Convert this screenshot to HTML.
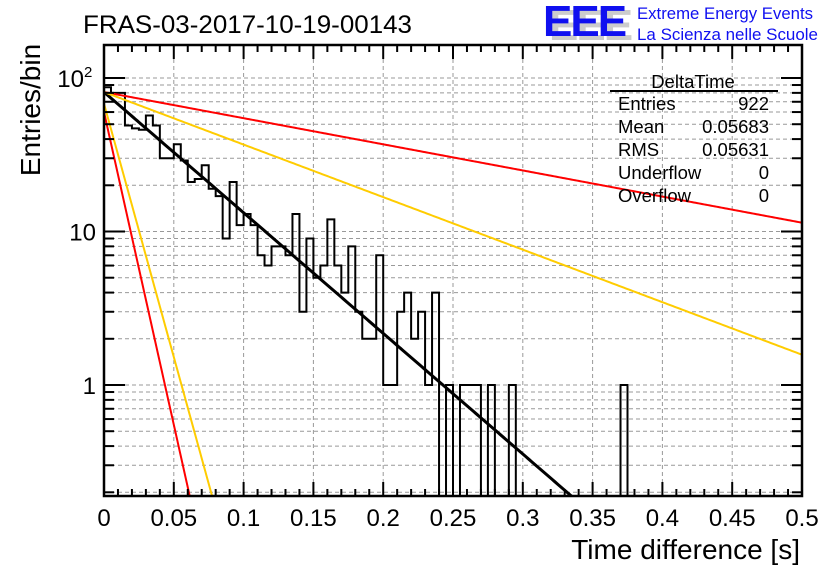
<!DOCTYPE html>
<html><head><meta charset="utf-8"><style>
html,body{margin:0;padding:0;background:#fff;width:836px;height:572px;overflow:hidden;}
svg{display:block;font-family:"Liberation Sans",sans-serif;}
</style></head><body>
<svg id="chart" width="836" height="572" viewBox="0 0 836 572">
<rect x="0" y="0" width="836" height="572" fill="#fff"/>
<text x="83" y="33" font-size="25" fill="#000" textLength="329" lengthAdjust="spacingAndGlyphs">FRAS-03-2017-10-19-00143</text>
<g>
<text x="549" y="40" font-size="44" font-weight="bold" fill="#ccc" letter-spacing="-2">EEE</text>
<text x="543" y="36" font-size="44" font-weight="bold" fill="#1010f0" letter-spacing="-2">EEE</text>
<text x="637" y="19" font-size="16.5" fill="#1010f0" textLength="176" lengthAdjust="spacingAndGlyphs">Extreme Energy Events</text>
<text x="637" y="40" font-size="16.5" fill="#1010f0" textLength="181" lengthAdjust="spacingAndGlyphs">La Scienza nelle Scuole</text>
</g>
<g id="grid"></g>
<g id="marks"></g>
<g id="axes"></g>
<text transform="translate(40,110) rotate(-90)" text-anchor="middle" font-size="28" fill="#000">Entries/bin</text>
<text x="800" y="559" text-anchor="end" font-size="28" fill="#000">Time difference [s]</text>
<g font-size="18.5" fill="#000">
<text x="693" y="88" text-anchor="middle">DeltaTime</text>
<line x1="610" y1="91" x2="778" y2="91" stroke="#000" stroke-width="2"/>
<text x="618" y="110">Entries</text><text x="769" y="110" text-anchor="end">922</text>
<text x="618" y="133">Mean</text><text x="769" y="133" text-anchor="end">0.05683</text>
<text x="618" y="156">RMS</text><text x="769" y="156" text-anchor="end">0.05631</text>
<text x="618" y="179">Underflow</text><text x="769" y="179" text-anchor="end">0</text>
<text x="618" y="202">Overflow</text><text x="769" y="202" text-anchor="end">0</text>
</g>
</svg>
<script>
const binWidth = 0.005;
const counts = [87,80,80,49,47,46,57,49,30,30,37,29,21,22,27,19,17,9,21,11,
13,11,7,6,8,8,7,13,3,9,5,6,12,6,4,8,3,2,2,7,1,1,3,4,2,3,1,4,0,1,
0,1,1,1,0,1,0,0,1,0,0,0,0,0,0,0,0,0,0,0,0,0,0,0,1,0,0,0,0,0,
0,0,0,0,0,0,0,0,0,0,0,0,0,0,0,0,0,0,0,0];
const xTicks = [0,0.05,0.1,0.15,0.2,0.25,0.3,0.35,0.4,0.45,0.5];
const xTickLabels = ["0","0.05","0.1","0.15","0.2","0.25","0.3","0.35","0.4","0.45","0.5"];
const fitAmps = [81, 81, 81, 60, 68];
const fitSlopes = [18.1, 3.92, 7.88, 93.8, 76];
const fitColors = ["#000","#f00","#fc0","#f00","#fc0"];

const L=104,R=802,T=45,B=496;
const y1=385, dec=153.5;
const X=v=>L+(v-0)/(0.5)*(R-L);
const Y=v=>y1-Math.log10(Math.max(v,1e-6))*dec;
const NS="http://www.w3.org/2000/svg";
function mk(t,a,p){const e=document.createElementNS(NS,t);for(const k in a)e.setAttribute(k,a[k]);p.appendChild(e);return e;}
const grid=document.getElementById('grid'),marks=document.getElementById('marks'),axes=document.getElementById('axes');
xTicks.forEach(v=>{if(v>0&&v<0.5){const g=mk('line',{x1:X(v),x2:X(v),y1:T,y2:B,stroke:'#999','stroke-dasharray':'4,3','stroke-width':1},grid);}});
const yVals=[];for(let d=-1;d<=2;d++)for(let m=1;m<10;m++){const v=m*Math.pow(10,d);if(Y(v)>T&&Y(v)<B)yVals.push([v,m==1]);}
yVals.forEach(([v,maj])=>{const g=mk('line',{x1:L,x2:R,y1:Y(v),y2:Y(v),stroke:'#999','stroke-dasharray':'4,3','stroke-width':1},grid);});
const defs=mk('defs',{},document.getElementById('chart'));
const cp=mk('clipPath',{id:'cp'},defs);mk('rect',{x:L,y:T,width:R-L,height:B-T},cp);
marks.setAttribute('clip-path','url(#cp)');
let d='M'+X(0)+','+B;
counts.forEach((c,i)=>{const yy=c>0?Y(c):B+5;d+=' L'+X(i*binWidth)+','+yy+' L'+X((i+1)*binWidth)+','+yy;});
d+=' L'+X(counts.length*binWidth)+','+B;
const h=mk('path',{d:d,fill:'none',stroke:'#000','stroke-width':2},marks);


fitAmps.forEach((a,k)=>{let p='';for(let i=0;i<=400;i++){const x=0.5*i/400;const v=a*Math.exp(-fitSlopes[k]*x);p+=(i?' L':'M')+X(x).toFixed(2)+','+Y(v).toFixed(2);}
const f=mk('path',{d:p,fill:'none',stroke:fitColors[k],'stroke-width':k==0?3:2},marks);

});
const fr=mk('rect',{x:L,y:T,width:R-L,height:B-T,fill:'none',stroke:'#000','stroke-width':2.5},axes);


for(let i=0;i<=50;i++){const v=i*0.01;const len=(i%5==0)?14:7;
mk('line',{x1:X(v),x2:X(v),y1:B,y2:B-len,stroke:'#000','stroke-width':2},axes);
mk('line',{x1:X(v),x2:X(v),y1:T,y2:T+len,stroke:'#000','stroke-width':2},axes);}
xTicks.forEach((v,i)=>{const t=mk('text',{x:X(v),y:526,'text-anchor':'middle','font-size':24,fill:'#000'},axes);t.textContent=xTickLabels[i];

});
yVals.forEach(([v,maj])=>{const len=maj?21:10;const y=Y(v);
mk('line',{x1:L,x2:L+len,y1:y,y2:y,stroke:'#000','stroke-width':2},axes);
mk('line',{x1:R,x2:R-len,y1:y,y2:y,stroke:'#000','stroke-width':2},axes);});
const yl=[[100,'10',true],[10,'10',false],[1,'1',false]];
yl.forEach(([v,s,sup])=>{const t=mk('text',{x:sup?84:96,y:Y(v)+9,'text-anchor':'end','font-size':24,fill:'#000'},axes);t.textContent=s;


if(sup){const s2=mk('text',{x:84,y:Y(v)-1,'font-size':15,fill:'#000'},axes);s2.textContent='2';}});
</script>
</body></html>
